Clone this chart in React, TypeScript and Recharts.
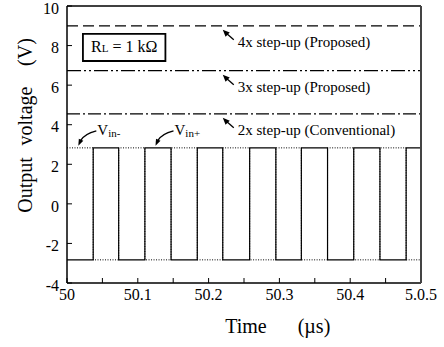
import React from 'react'
import {
  ComposedChart,
  Line,
  XAxis,
  YAxis,
  ReferenceLine,
  ReferenceArea,
  ReferenceDot,
} from 'recharts'

// switching instants of the output square wave (µs)
const edgeTimes = [
  50.037, 50.073, 50.11, 50.147, 50.184, 50.22, 50.258, 50.295, 50.331, 50.368, 50.405, 50.442, 50.479,
]
const swingHigh = 2.83
const swingLow = -2.83

// steady-state levels of the step-up outputs (V)
const levelValues = [9.0, 6.73, 4.55]
const levelLabels = ['4x step-up (Proposed)', '3x step-up (Proposed)', '2x step-up (Conventional)']
const levelDash = ['11 5', '14 3 2 3 2 3', '13 3 2 3']
const labelAnchorTime = 50.22

const vinTimes = [50.016, 50.125]
const vinSubs = ['in-', 'in+']

const xTicks = [50, 50.05, 50.1, 50.15, 50.2, 50.25, 50.3, 50.35, 50.4, 50.45, 50.5]
const xTickLabels = ['50', '', '50.1', '', '50.2', '', '50.3', '', '50.4', '', '5.0.5']
const yTicks = [-4, -2, 0, 2, 4, 6, 8, 10]

const FONT = '"Liberation Serif", "Times New Roman", serif'

function buildWave(startLow: boolean) {
  const pts: { t: number; v: number }[] = []
  let low = startLow
  pts.push({ t: 50, v: low ? swingLow : swingHigh })
  edgeTimes.forEach((t) => {
    pts.push({ t, v: low ? swingLow : swingHigh })
    low = !low
    pts.push({ t, v: low ? swingLow : swingHigh })
  })
  pts.push({ t: 50.5, v: low ? swingLow : swingHigh })
  return pts
}

const solidWave = buildWave(true)
const dottedWave = buildWave(false)

const LevelTag = (label: string) => (props: any) => {
  const { cx, cy } = props
  const tipX = cx
  const tipY = cy + 4
  return (
    <g>
      <line x1={tipX + 3} y1={tipY + 3} x2={tipX + 11} y2={tipY + 10} stroke="#000" strokeWidth={1.3} />
      <polygon
        points={`${tipX},${tipY} ${tipX + 7},${tipY + 2.8} ${tipX + 2.8},${tipY + 7}`}
        fill="#000"
      />
      <text x={cx + 15} y={cy + 21} fontFamily={FONT} fontSize={15} fill="#000">
        {label}
      </text>
    </g>
  )
}

const VinTag = (sub: string) => (props: any) => {
  const { cx, cy } = props
  const tx = cx
  const ty = cy - 2
  return (
    <g>
      <path
        d={`M ${cx + 18} ${cy - 17} Q ${cx + 6} ${cy - 14} ${cx + 2} ${cy - 7}`}
        fill="none"
        stroke="#000"
        strokeWidth={1.4}
      />
      <polygon points={`${tx},${ty} ${tx + 5},${ty - 5} ${tx + 0.5},${ty - 7}`} fill="#000" />
      <text x={cx + 19} y={cy - 13} fontFamily={FONT} fontSize={15} fill="#000">
        V<tspan fontSize={11} dy={2}>{sub}</tspan>
      </text>
    </g>
  )
}

const LoadLabel = (props: any) => {
  const { viewBox } = props
  const { x, y, width, height } = viewBox
  return (
    <text
      x={x + width / 2}
      y={y + height / 2 + 5}
      textAnchor="middle"
      fontFamily={FONT}
      fontSize={16}
      fill="#000"
    >
      R<tspan fontSize={11}>L</tspan> = 1 kΩ
    </text>
  )
}

// y title is spread out in the original, words placed along the axis
const yTitleWords = ['Output', 'voltage', '(V)']
const yTitleOffsets = [179, 110, 46]

const YTitle = (props: any) => {
  const { viewBox } = props
  const x = 25
  return (
    <g>
      {yTitleWords.map((w, i) => {
        const cy = viewBox.y + yTitleOffsets[i]
        return (
          <text
            key={w}
            x={x}
            y={cy}
            transform={`rotate(-90 ${x} ${cy})`}
            textAnchor="middle"
            dominantBaseline="central"
            fontFamily={FONT}
            fontSize={20}
            fill="#000"
          >
            {w}
          </text>
        )
      })}
    </g>
  )
}

const XTitle = (props: any) => {
  const { viewBox } = props
  const x0 = viewBox.x
  return (
    <g fontFamily={FONT} fontSize={20} fill="#000">
      <text x={x0 + 179} y={333} textAnchor="middle">
        Time
      </text>
      <text x={x0 + 247} y={333} textAnchor="middle">
        (µs)
      </text>
    </g>
  )
}

export default function App() {
  const tickStyle = { fontSize: 16, fill: '#000', fontFamily: FONT }
  return (
    <div style={{ position: 'absolute', left: 0, top: 0, width: 444, height: 347, background: '#fff' }}>
      <ComposedChart width={444} height={347} margin={{ top: 0, right: 22, bottom: 34, left: 0 }}>
        <XAxis
          dataKey="t"
          type="number"
          domain={[50, 50.5]}
          ticks={xTicks}
          allowDataOverflow
          interval={0}
          height={30}
          tickSize={-5}
          tickMargin={11}
          tickFormatter={(_v: number, i: number) => xTickLabels[i]}
          tick={tickStyle}
          stroke="#000"
          axisLine={{ stroke: '#000', strokeWidth: 1.5 }}
          tickLine={{ stroke: '#000' }}
          label={<XTitle />}
        />
        <XAxis
          xAxisId="top"
          orientation="top"
          dataKey="t"
          type="number"
          domain={[50, 50.5]}
          ticks={xTicks}
          interval={0}
          height={6}
          tickSize={-5}
          tick={false}
          axisLine={{ stroke: '#000', strokeWidth: 1.5 }}
          tickLine={{ stroke: '#000' }}
        />
        <YAxis
          type="number"
          domain={[-4, 10]}
          ticks={yTicks}
          interval={0}
          width={67}
          tickSize={-5}
          tickMargin={13}
          tick={{ ...tickStyle, dy: 2 }}
          axisLine={{ stroke: '#000', strokeWidth: 1.5 }}
          tickLine={{ stroke: '#000' }}
          label={<YTitle />}
        />
        <YAxis
          yAxisId="r"
          orientation="right"
          type="number"
          domain={[-4, 10]}
          ticks={yTicks}
          interval={0}
          width={1}
          tickSize={-5}
          tick={false}
          axisLine={{ stroke: '#444', strokeWidth: 2 }}
          tickLine={{ stroke: '#000' }}
        />

        {levelValues.map((v, i) => (
          <ReferenceLine key={i} y={v} stroke="#000" strokeWidth={1.2} strokeDasharray={levelDash[i]} />
        ))}
        {levelValues.map((v, i) => (
          <ReferenceDot key={'l' + i} x={labelAnchorTime} y={v} shape={LevelTag(levelLabels[i])} />
        ))}

        <ReferenceArea
          x1={50.0225}
          x2={50.139}
          y1={7.22}
          y2={8.59}
          fill="#fff"
          fillOpacity={1}
          stroke="#000"
          strokeWidth={1.8}
          label={<LoadLabel />}
        />

        <Line
          data={solidWave}
          dataKey="v"
          type="linear"
          stroke="#000"
          strokeWidth={1.2}
          dot={false}
          isAnimationActive={false}
        />
        <Line
          data={dottedWave}
          dataKey="v"
          type="linear"
          stroke="#000"
          strokeWidth={1}
          strokeDasharray="1 1.5"
          dot={false}
          isAnimationActive={false}
        />

        {vinTimes.map((t, i) => (
          <ReferenceDot key={'v' + i} x={t} y={swingHigh} shape={VinTag(vinSubs[i])} />
        ))}
      </ComposedChart>
    </div>
  )
}
